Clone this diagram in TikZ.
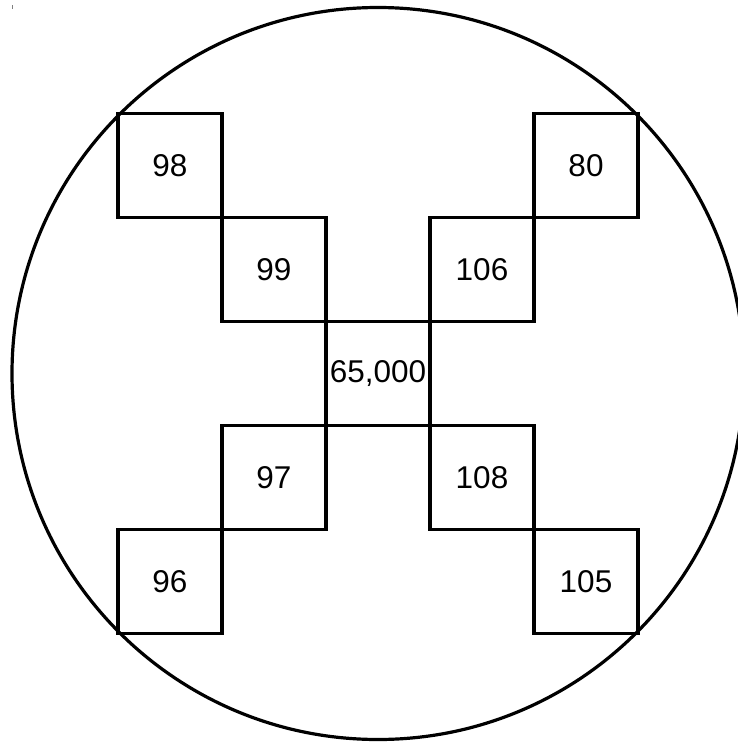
\documentclass[tikz,border=0pt]{standalone}
\usepackage{fontspec}
\setmainfont{Liberation Sans}
\begin{document}
\begin{tikzpicture}[x=1pt,y=-1pt,
  cell/.style={draw, line width=3.2pt, minimum size=104pt, inner sep=0pt, font=\fontsize{31.5}{37}\selectfont},
  rim/.style={draw, line width=3.2pt}]
\useasboundingbox (0,0) rectangle (738,742);
\clip (0,0) rectangle (738,742);
\fill[white] (0,0) rectangle (738,742);
\coordinate (o) at (378,373.5);
\draw[rim] (o) circle[radius=366pt];
\node[cell] (c) at (378,373.5) {65,000};
\node[cell] (n98) at (170,165.5) {98};
\node[cell] (n99) at (274,269.5) {99};
\node[cell] (n80) at (586,165.5) {80};
\node[cell] (n106) at (482,269.5) {106};
\node[cell] (n97) at (274,477.5) {97};
\node[cell] (n96) at (170,581.5) {96};
\node[cell] (n108) at (482,477.5) {108};
\node[cell] (n105) at (586,581.5) {105};
\coordinate (t1) at (12.5,5);
\coordinate (t2) at (12.5,9);
\draw[line width=0.8pt, gray] (t1) -- (t2);
\end{tikzpicture}
\end{document}
